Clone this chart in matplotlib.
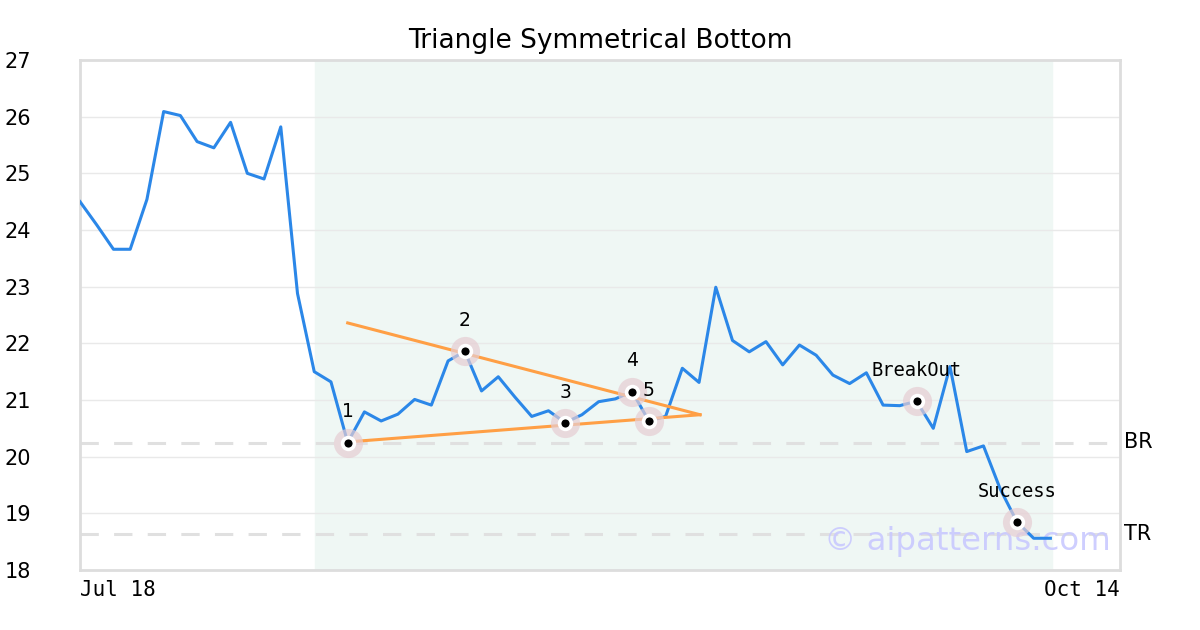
"""Triangle Symmetrical Bottom pattern chart."""

import matplotlib
matplotlib.use("Agg")
import matplotlib.pyplot as plt

# closing prices, one per trading day from Jul 18
prices = [
    24.50, 24.09, 23.66, 23.66, 24.54, 26.09, 26.02, 25.56, 25.45, 25.90,
    25.00, 24.90, 25.82, 22.88, 21.50, 21.32, 20.25, 20.79, 20.63, 20.75,
    21.01, 20.91, 21.69, 21.86, 21.16, 21.41, 21.05, 20.71, 20.81, 20.60,
    20.74, 20.97, 21.02, 21.15, 20.63, 20.71, 21.56, 21.31, 22.99, 22.05,
    21.85, 22.03, 21.62, 21.97, 21.79, 21.44, 21.29, 21.48, 20.91, 20.90,
    20.98, 20.50, 21.59, 20.09, 20.19, 19.43, 18.85, 18.56, 18.56,
]

point_idx = [16, 23, 29, 33, 34, 50, 56]
point_labels = ["1", "2", "3", "4", "5", "BreakOut", "Success"]

# triangle boundary lines (start index, start value, end index, end value)
upper_line = (16, 22.36, 37.06, 20.74)
lower_line = (16, 20.26, 37.06, 20.74)

breakout_level = 20.25   # BR
target_level = 18.64     # TR
pattern_span = (14.05, 58.1)

x_ticks = [0, 62.16]
x_labels = ["Jul 18", "Oct 14"]
y_ticks = list(range(18, 28))

fig = plt.figure(figsize=(12, 6.3), dpi=100)
ax = fig.add_axes([80 / 1200, 60 / 630, 1040 / 1200, 510 / 630])

ax.axvspan(*pattern_span, color="#eff7f4", zorder=0)
for v in y_ticks:
    ax.axhline(v, color="#e9e9e9", lw=1, zorder=1)
for lvl in (breakout_level, target_level):
    ax.axhline(lvl, color="#e0e0e0", lw=2.2, dashes=(6, 5), zorder=1)

xs = list(range(len(prices)))
ax.plot(xs, prices, color="#2b87e8", lw=2.2, zorder=3)

for x0, y0, x1, y1 in (upper_line, lower_line):
    ax.plot([x0, x1], [y0, y1], color="#ff9f45", lw=2.2, zorder=4)

px = point_idx
py = [prices[i] for i in point_idx]
ax.plot(px, py, "o", ms=21, color="#e6cdd3", alpha=0.7, mec="none", zorder=5)
ax.plot(px, py, "o", ms=8.5, color="black", mec="white", mew=2.6, zorder=6)

for i, lab in zip(point_idx, point_labels):
    fam = "DejaVu Sans Mono" if len(lab) > 1 else "DejaVu Sans"
    ax.annotate(lab, (i, prices[i]), xytext=(0, 22), textcoords="offset points",
                ha="center", va="center", fontsize=13.5, family=fam, zorder=7)

ax.text(1.004, (target_level - 18) / 9, "TR", transform=ax.transAxes,
        ha="left", va="center", fontsize=15)
ax.text(1.004, (breakout_level - 18) / 9, "BR", transform=ax.transAxes,
        ha="left", va="center", fontsize=15)

ax.text(0.991, 0.055, "© aipatterns.com", transform=ax.transAxes, ha="right",
        va="center", fontsize=23.3, color="#c9c9ff", alpha=0.9, zorder=2)

ax.set_xlim(x_ticks[0], x_ticks[1])
ax.set_ylim(18, 27)
ax.set_yticks(y_ticks)
ax.set_yticklabels([str(v) for v in y_ticks], fontsize=15)
ax.set_xticks(x_ticks)
ax.set_xticklabels(x_labels, fontsize=15, family="DejaVu Sans Mono")
ax.get_xticklabels()[0].set_ha("left")
ax.get_xticklabels()[1].set_ha("right")
ax.tick_params(length=0)
ax.tick_params(axis="y", pad=54)
ax.tick_params(axis="x", pad=7)
for lab in ax.get_yticklabels():
    lab.set_ha("left")
for sp in ax.spines.values():
    sp.set_color("#dddddd")
    sp.set_linewidth(2)

ax.set_title("Triangle Symmetrical Bottom", fontsize=19, pad=9)

fig.savefig("out.png", dpi=100)
